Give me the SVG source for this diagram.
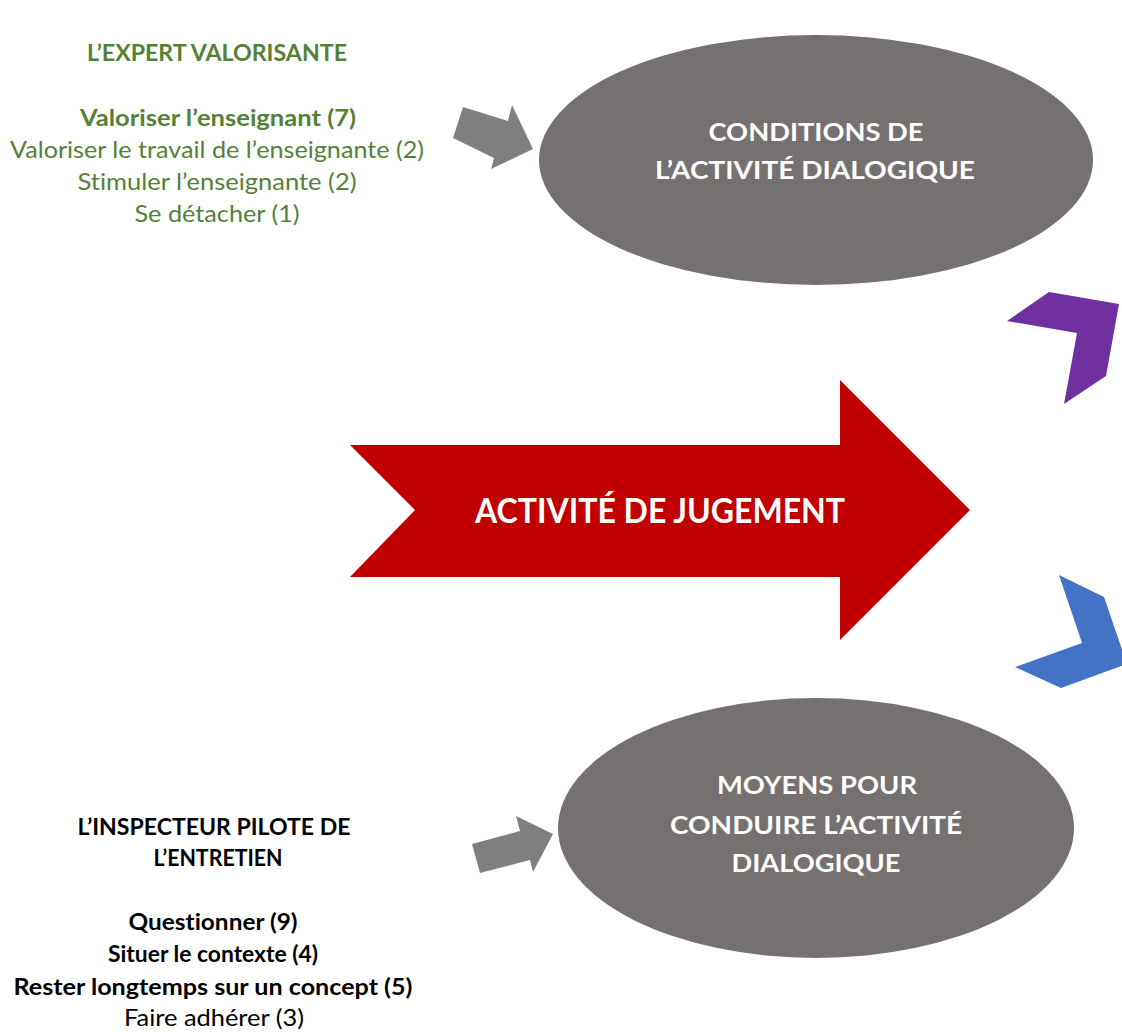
<svg xmlns="http://www.w3.org/2000/svg" width="1122" height="1032" viewBox="0 0 1122 1032">
<style>
.t{font-family:"Lato","Liberation Sans",sans-serif;text-anchor:middle;font-variant-ligatures:none}
.b{font-weight:bold}
.g{fill:#538135;font-size:23px}
.k{fill:#000;font-size:23px}
.w{fill:#fff;font-weight:bold;font-size:25px}
.ell{fill:#767171}
.arr{fill:#7f7f7f}
</style>
<rect width="1122" height="1032" fill="#fff"/>
<g id="expert-valorisante">
<text class="t g b" x="217" y="61" textLength="260" lengthAdjust="spacingAndGlyphs">L’EXPERT VALORISANTE</text>
<text class="t g b" x="218" y="126" textLength="276" lengthAdjust="spacingAndGlyphs">Valoriser l’enseignant (7)</text>
<text class="t g" x="217" y="158" textLength="414" lengthAdjust="spacingAndGlyphs">Valoriser le travail de l’enseignante (2)</text>
<text class="t g" x="217" y="190" textLength="279" lengthAdjust="spacingAndGlyphs">Stimuler l’enseignante (2)</text>
<text class="t g" x="217" y="222" textLength="165" lengthAdjust="spacingAndGlyphs">Se détacher (1)</text>
</g>
<g id="conditions">
<ellipse class="ell" cx="816" cy="160" rx="277" ry="125"/>
<text class="t w" x="816" y="141" textLength="215" lengthAdjust="spacingAndGlyphs">CONDITIONS DE</text>
<text class="t w" x="815" y="179" textLength="320" lengthAdjust="spacingAndGlyphs">L’ACTIVITÉ DIALOGIQUE</text>
</g>
<g id="jugement">
<polygon fill="#c00000" points="350,445 840,445 840,380 970,510 840,640 840,577 350,577 415,510"/>
<text class="t" x="660" y="523" fill="#fff" font-weight="bold" font-size="35" textLength="370" lengthAdjust="spacingAndGlyphs">ACTIVITÉ DE JUGEMENT</text>
</g>
<g id="moyens">
<ellipse class="ell" cx="816" cy="828" rx="258" ry="130"/>
<text class="t w" x="817" y="794" textLength="200" lengthAdjust="spacingAndGlyphs">MOYENS POUR</text>
<text class="t w" x="816" y="834" textLength="292" lengthAdjust="spacingAndGlyphs">CONDUIRE L’ACTIVITÉ</text>
<text class="t w" x="816" y="872" textLength="169" lengthAdjust="spacingAndGlyphs">DIALOGIQUE</text>
</g>
<g id="inspecteur">
<text class="t k b" x="214" y="835" textLength="273" lengthAdjust="spacingAndGlyphs">L’INSPECTEUR PILOTE DE</text>
<text class="t k b" x="218" y="866" textLength="129" lengthAdjust="spacingAndGlyphs">L’ENTRETIEN</text>
<text class="t k b" x="213" y="930" textLength="169" lengthAdjust="spacingAndGlyphs">Questionner (9)</text>
<text class="t k b" x="213" y="962" textLength="210" lengthAdjust="spacingAndGlyphs">Situer le contexte (4)</text>
<text class="t k b" x="213" y="995" textLength="399" lengthAdjust="spacingAndGlyphs">Rester longtemps sur un concept (5)</text>
<text class="t k" x="214" y="1026" textLength="180" lengthAdjust="spacingAndGlyphs">Faire adhérer (3)</text>
</g>
<g id="connectors">
<polygon class="arr" points="463,107 508,121 512,105 533,149 491,169 494,158 453,138"/>
<polygon class="arr" points="472,844 520,831 516,816 553,834 533,872 530,860 480,873"/>
<polygon fill="#7030a0" points="1007,321 1049,292 1119,304 1106,376 1064,404 1077,333"/>
<polygon fill="#4472c4" points="1059,575 1104,597 1127,664 1061,688 1015,667 1082,643"/>
</g>
</svg>
